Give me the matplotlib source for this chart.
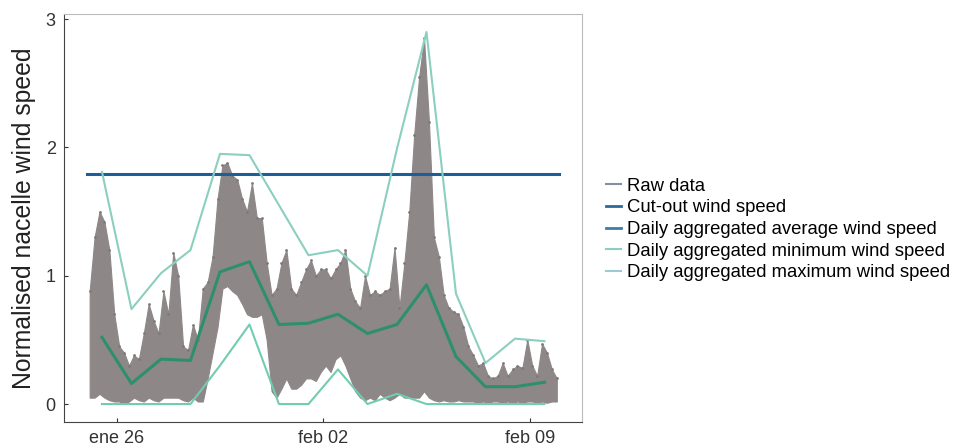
import numpy as np
import pandas as pd
import matplotlib
matplotlib.use('Agg')
import matplotlib.pyplot as plt
import matplotlib.dates as mdates
from matplotlib.lines import Line2D

plt.rcParams['font.family'] = ['Liberation Sans', 'DejaVu Sans']

# Datos crudos: envolvente (min / max) cada 4 horas, 25 ene -> 10 feb
raw_hi = [
    0.88, 1.30, 1.50, 1.42, 1.20, 0.70,   # ene 25
    0.45, 0.40, 0.30, 0.38, 0.35, 0.55,   # ene 26
    0.78, 0.65, 0.55, 0.88, 0.70, 1.18,   # ene 27
    1.00, 0.45, 0.42, 0.62, 0.50, 0.90,   # ene 28
    0.95, 1.15, 1.60, 1.86, 1.88, 1.78,   # ene 29
    1.75, 1.60, 1.50, 1.72, 1.45, 1.45,   # ene 30
    1.10, 0.85, 0.90, 1.10, 1.20, 0.90,   # ene 31
    0.85, 0.95, 1.05, 1.12, 1.00, 1.05,   # feb 01
    1.05, 0.98, 1.05, 1.10, 1.20, 0.90,   # feb 02
    0.80, 0.75, 1.00, 0.85, 0.88, 0.85,   # feb 03
    0.88, 0.90, 1.22, 0.75, 1.10, 1.50,   # feb 04
    2.10, 2.55, 2.85, 2.20, 1.30, 1.15,   # feb 05
    0.85, 0.75, 0.72, 0.70, 0.60, 0.45,   # feb 06
    0.38, 0.30, 0.32, 0.22, 0.20, 0.22,   # feb 07
    0.32, 0.22, 0.27, 0.30, 0.28, 0.50,   # feb 08
    0.30, 0.22, 0.47, 0.40, 0.27, 0.20,   # feb 09
]
raw_lo = [
    0.05, 0.05, 0.08, 0.05, 0.03, 0.02,
    0.02, 0.00, 0.02, 0.05, 0.03, 0.02,
    0.05, 0.03, 0.02, 0.05, 0.05, 0.05,
    0.05, 0.03, 0.02, 0.05, 0.02, 0.02,
    0.20, 0.40, 0.60, 0.90, 0.92, 0.88,
    0.85, 0.78, 0.70, 0.68, 0.68, 0.70,
    0.50, 0.10, 0.05, 0.12, 0.20, 0.12,
    0.12, 0.15, 0.20, 0.20, 0.18, 0.25,
    0.30, 0.25, 0.35, 0.38, 0.30, 0.20,
    0.10, 0.05, 0.03, 0.05, 0.03, 0.08,
    0.05, 0.03, 0.05, 0.08, 0.05, 0.05,
    0.05, 0.05, 0.10, 0.05, 0.03, 0.02,
    0.03, 0.02, 0.02, 0.03, 0.02, 0.02,
    0.02, 0.01, 0.02, 0.01, 0.02, 0.02,
    0.01, 0.02, 0.01, 0.02, 0.01, 0.02,
    0.02, 0.01, 0.02, 0.01, 0.02, 0.02,
]

# Agregados diarios (a las 12:00)
daily_avg = [0.52, 0.16, 0.35, 0.34, 1.03, 1.11, 0.62, 0.63,
             0.70, 0.55, 0.62, 0.93, 0.37, 0.135, 0.135, 0.17]
daily_min = [0, 0, 0, 0, 0.30, 0.62, 0, 0,
             0.27, 0, 0.08, 0, 0, 0, 0, 0]
daily_max = [1.81, 0.74, 1.02, 1.20, 1.95, 1.94, 1.55, 1.16,
             1.20, 1.00, 1.99, 2.90, 0.86, 0.32, 0.51, 0.49]

cut_out = 1.79

tick_dates = ['2021-01-26', '2021-02-02', '2021-02-09']
tick_labels = ['ene 26', 'feb 02', 'feb 09']

t_raw = pd.date_range('2021-01-25 02:00', periods=len(raw_hi), freq='4h')
t_day = pd.date_range('2021-01-25 12:00', periods=len(daily_avg), freq='D')

fig = plt.figure(figsize=(9.57, 4.48), dpi=100)
ax = fig.add_axes([0.0669, 0.058, 0.5413, 0.9107])

# datos crudos
ax.fill_between(t_raw, raw_lo, raw_hi, color='#8d8788', lw=0.8, ec='#8d8788')
ax.plot(t_raw, raw_hi, '.', color='#7f797a', ms=2)

ax.plot([pd.Timestamp('2021-01-25'), pd.Timestamp('2021-02-10')], [cut_out, cut_out],
        color='#1d5d99', lw=2.2)
ax.plot(t_day, daily_max, color='#8ccfbf', lw=1.5)
ax.plot(t_day, daily_min, color='#72ccb2', lw=1.5)
ax.plot(t_day, daily_avg, color='#2e8f6f', lw=2.2)

d0 = mdates.date2num(pd.Timestamp('2021-01-26'))
ax.set_xlim(d0 - 1.786, d0 + 15.773)
ax.set_ylim(-0.14, 3.04)

ax.set_xticks([mdates.date2num(pd.Timestamp(d)) for d in tick_dates])
ax.set_xticklabels(tick_labels)
ax.set_yticks([0, 1, 2, 3])
ax.tick_params(direction='in', length=3, labelsize=13, colors='#333333', pad=6)

for s in ['left', 'bottom']:
    ax.spines[s].set_color('#444444')
for s in ['top', 'right']:
    ax.spines[s].set_color('#bbbbbb')

ax.set_ylabel('Normalised nacelle wind speed', fontsize=17.8, color='#222222', labelpad=7)

# leyenda
handles = [
    Line2D([], [], color='#8090a8', lw=1.5),
    Line2D([], [], color='#2c6a9c', lw=2),
    Line2D([], [], color='#3b7fa8', lw=2),
    Line2D([], [], color='#8ad0c0', lw=1.5),
    Line2D([], [], color='#9cc8d8', lw=1.5),
]
labels = ['Raw data', 'Cut-out wind speed', 'Daily aggregated average wind speed',
          'Daily aggregated minimum wind speed', 'Daily aggregated maximum wind speed']
fig.legend(handles, labels, loc='center left', bbox_to_anchor=(606 / 957, 1 - 229.5 / 448),
           frameon=False, fontsize=13.3, handlelength=0.8, handletextpad=0.35,
           labelspacing=0.25, borderpad=0, borderaxespad=0)

fig.savefig('out.png', dpi=100)
